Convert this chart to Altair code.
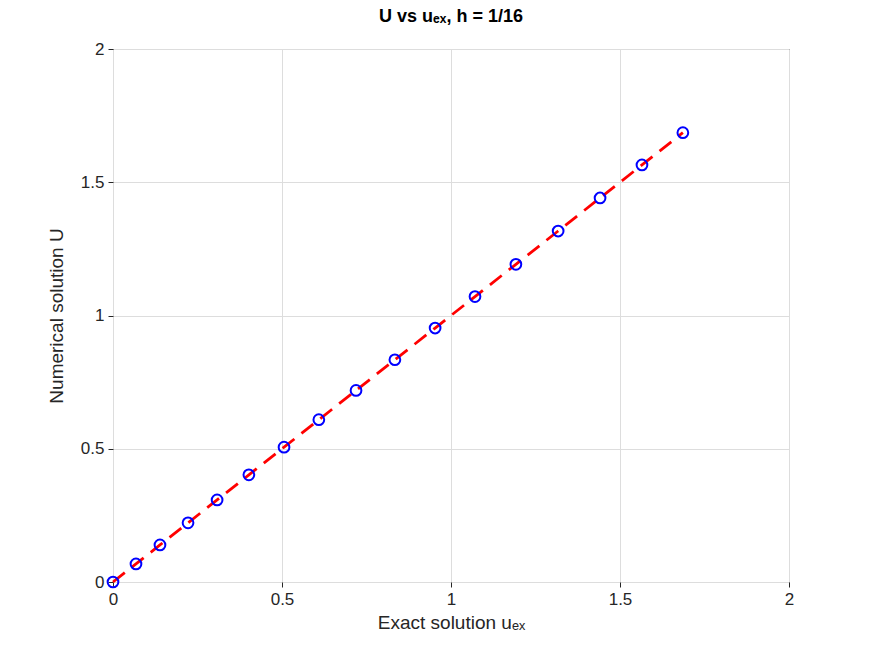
import altair as alt
import pandas as pd

u_exact = [0, 0.068, 0.139, 0.222, 0.308, 0.402, 0.506, 0.609, 0.719, 0.834,
           0.953, 1.071, 1.192, 1.317, 1.441, 1.565, 1.686]
u_num = [0, 0.068, 0.139, 0.222, 0.308, 0.402, 0.506, 0.609, 0.719, 0.834,
         0.953, 1.071, 1.192, 1.317, 1.441, 1.565, 1.686]

df = pd.DataFrame({"uex": u_exact, "U": u_num})

FONT = "Liberation Sans"

x = alt.X("uex:Q", title="Exact solution uₑₓ",
          scale=alt.Scale(domain=[0, 2], nice=False),
          axis=alt.Axis(values=[0, 0.5, 1, 1.5, 2], format="~g", labelFlush=False))
y = alt.Y("U:Q", title="Numerical solution U",
          scale=alt.Scale(domain=[0, 2], nice=False),
          axis=alt.Axis(values=[0, 0.5, 1, 1.5, 2], format="~g"))

line = alt.Chart(df).mark_line(color="#ff0000", strokeWidth=2.8,
                               strokeDash=[15, 9]).encode(x=x, y=y)
points = alt.Chart(df).mark_point(shape="circle", filled=False, color="#0000ff",
                                  size=115, strokeWidth=2, opacity=1).encode(x=x, y=y)

chart = (line + points).properties(
    width=676, height=533,
    autosize=alt.AutoSizeParams(type="none"),
    padding={"left": 105, "top": 41, "right": 75, "bottom": 60},
    title=alt.TitleParams("U vs uₑₓ, h = 1/16", font=FONT, fontSize=18,
                          fontWeight="bold", color="black", offset=14),
    background="white",
).configure_view(stroke="#262626", strokeWidth=1).configure_axis(
    labelFont=FONT, titleFont=FONT, labelFontSize=17, titleFontSize=19,
    titleFontWeight="normal", labelColor="#262626", titleColor="#262626",
    gridColor="#dddddd", domain=False, tickColor="#262626", tickSize=5,
    labelPadding=4,
).configure_axisX(titlePadding=6).configure_axisY(titlePadding=14)

chart.save("out.html", embed_options={"renderer": "svg", "actions": False})
